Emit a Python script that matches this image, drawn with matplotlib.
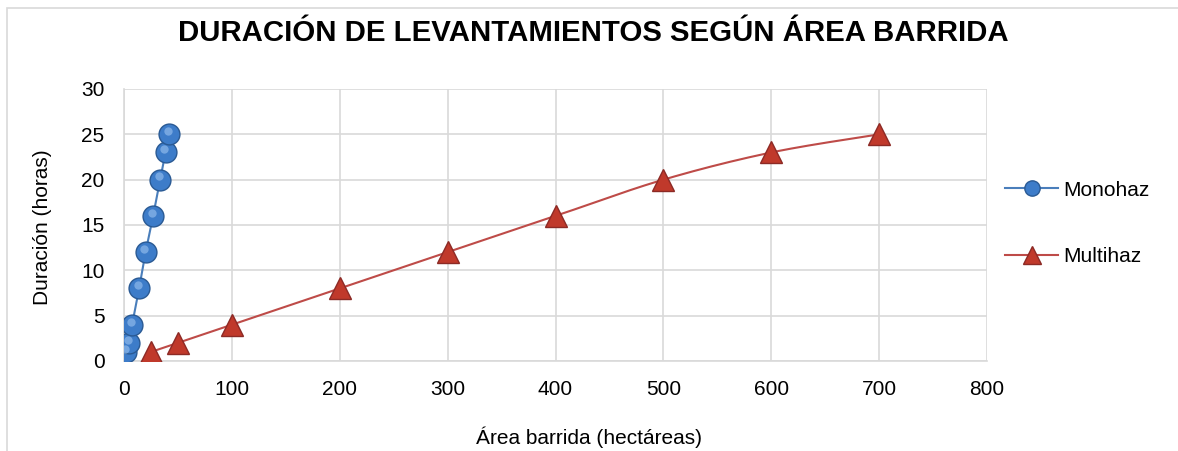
import numpy as np
import matplotlib
matplotlib.use("Agg")
import matplotlib.pyplot as plt
from matplotlib.lines import Line2D

plt.rcParams['font.family'] = ['Liberation Sans', 'DejaVu Sans']

# Survey data: swept area (ha) vs. duration (hours)
mono_area = [2, 4.5, 7.5, 14, 20, 27, 33.5, 38.5, 42]
mono_hours = [1, 2, 4, 8, 12, 16, 20, 23, 25]
multi_area = [25, 50, 100, 200, 300, 400, 500, 600, 700]
multi_hours = [1, 2, 4, 8, 12, 16, 20, 23, 25]

x_ticks = [0, 100, 200, 300, 400, 500, 600, 700, 800]
y_ticks = [0, 5, 10, 15, 20, 25, 30]


def smooth(xs, ys, n=30):
    """Catmull-Rom curve through the points (spreadsheet-style smoothed line)."""
    x = np.asarray(xs, float)
    y = np.asarray(ys, float)
    px = np.concatenate([[x[0]], x, [x[-1]]])
    py = np.concatenate([[y[0]], y, [y[-1]]])
    ox, oy = [], []
    t = np.linspace(0, 1, n)
    for i in range(1, len(px) - 2):
        p0, p1, p2, p3 = [np.array([px[j], py[j]]) for j in (i - 1, i, i + 1, i + 2)]
        m1 = (p2 - p0) / 6.0
        m2 = (p3 - p1) / 6.0
        c1 = p1 + m1
        c2 = p2 - m2
        pts = ((1 - t) ** 3)[:, None] * p1 + (3 * (1 - t) ** 2 * t)[:, None] * c1 \
            + (3 * (1 - t) * t ** 2)[:, None] * c2 + (t ** 3)[:, None] * p2
        ox.extend(pts[:, 0])
        oy.extend(pts[:, 1])
    return ox, oy


W, H = 1178, 451
fig = plt.figure(figsize=(W / 100, H / 100), dpi=100)
ax = fig.add_axes([124 / W, 1 - 361 / H, (987 - 124) / W, (361 - 89) / H])

blue_line = '#4A7EBB'
blue_face = '#3D7CC9'
blue_edge = '#2A5A94'
red_line = '#BE4B48'
red_face = '#C0392B'
red_edge = '#8C2A25'

sx, sy = smooth(multi_area, multi_hours)
ax.plot(sx, sy, color=red_line, lw=1.5, zorder=2)
ax.plot(multi_area, multi_hours, ls='none', marker='^', ms=16,
        mfc=red_face, mec=red_edge, mew=1.0, zorder=3)

ax.plot(mono_area, mono_hours, color=blue_line, lw=1.5, zorder=4)
ax.plot(mono_area, mono_hours, ls='none', marker='o', ms=15,
        mfc=blue_face, mec=blue_edge, mew=1.0, zorder=5)
# highlight on the spheres
ax.plot(np.array(mono_area) - 1.0, np.array(mono_hours) + 0.35, ls='none',
        marker='o', ms=6, mfc='#8DB8EA', mec='none', alpha=0.7, zorder=6)

ax.set_xlim(0, 800)
ax.set_ylim(0, 30)
ax.set_xticks(x_ticks)
ax.set_yticks(y_ticks)
ax.tick_params(length=0, labelsize=15)
ax.tick_params(axis='x', pad=14)
ax.tick_params(axis='y', pad=14)
ax.grid(True, color='#D9D9D9', lw=1.2)
ax.set_axisbelow(True)
for s in ['top', 'right']:
    ax.spines[s].set_visible(False)
for s in ['left', 'bottom']:
    ax.spines[s].set_color('#D9D9D9')
    ax.spines[s].set_linewidth(1.2)

fig.text(589 / W, 1 - 437 / H, 'Área barrida (hectáreas)', ha='center', va='center', fontsize=15)
fig.text(43 / W, 1 - 227 / H, 'Duración (horas)', ha='center', va='center',
         rotation=90, fontsize=15)

fig.text(593 / W, 1 - 33 / H, 'DURACIÓN DE LEVANTAMIENTOS SEGÚN ÁREA BARRIDA',
         ha='center', va='center', fontsize=21.2, fontweight='bold')

handles = [
    Line2D([], [], color=blue_line, lw=1.5, marker='o', ms=11, mfc=blue_face, mec=blue_edge),
    Line2D([], [], color=red_line, lw=1.5, marker='^', ms=13, mfc=red_face, mec=red_edge),
]
fig.legend(handles, ['Monohaz', 'Multihaz'], loc='center left',
           bbox_to_anchor=(1005 / W, 1 - 223.5 / H), frameon=False,
           borderpad=0, borderaxespad=0,
           fontsize=15, handlelength=2.55, labelspacing=2.3, handletextpad=0.25)

# chart frame
fig.patches.append(plt.Rectangle((7 / W, -0.05), 1.2, 1 - 8 / H + 0.05,
                                 transform=fig.transFigure, fill=False,
                                 ec='#D9D9D9', lw=1.2))

fig.savefig('out.png', dpi=100)
